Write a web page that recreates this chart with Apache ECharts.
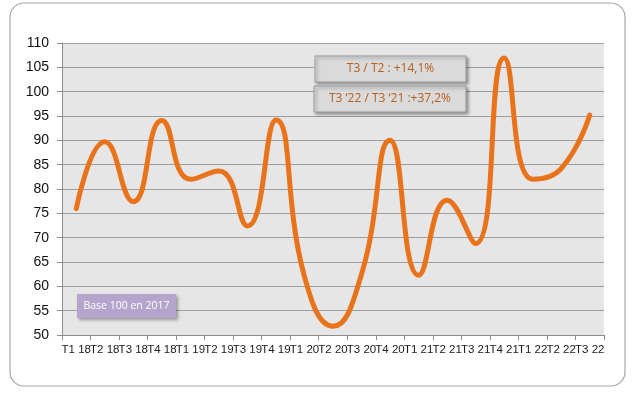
<!DOCTYPE html>
<html><head><meta charset="utf-8">
<script src="https://cdn.jsdelivr.net/npm/echarts@6/dist/echarts.min.js"></script>
<style>html,body{margin:0;padding:0;background:#fff}#c{width:633px;height:394px}</style>
</head><body><div id="c"></div>
<script>
const categories = ['T1 18','T2 18','T3 18','T4 18','T1 19','T2 19','T3 19','T4 19','T1 20','T2 20','T3 20','T4 20','T1 21','T2 21','T3 21','T4 21','T1 22','T2 22','T3 22'];
const values = [76.0, 89.7, 77.4, 94.1, 82.0, 83.7, 72.4, 94.2, 62.0, 51.8, 62.5, 90.0, 62.3, 77.7, 68.8, 106.9, 82.0, 84.2, 95.2];
const yTicks = {min: 50, max: 110, step: 5};
const notes = ['T3 / T2 : +14,1%', 'T3 \u201822 / T3 \u201821 :+37,2%'];
const baseNote = 'Base 100 en 2017';

const chart = echarts.init(document.getElementById('c'), null, {renderer: 'canvas'});
const boxStyle = {fill: '#DADADA', stroke: '#9A9A9A', lineWidth: 1, shadowBlur: 3, shadowOffsetX: 2, shadowOffsetY: 2, shadowColor: 'rgba(0,0,0,0.35)'};
chart.setOption({
  animation: false,
  backgroundColor: '#fff',
  grid: {left: 62, right: 29, top: 43, bottom: 59, show: true, backgroundColor: '#E6E6E6', borderWidth: 0},
  xAxis: {
    type: 'category', data: categories, boundaryGap: true,
    axisLine: {lineStyle: {color: '#8C8C8C', width: 1}},
    axisTick: {show: true, length: 5, lineStyle: {color: '#8C8C8C'}},
    axisLabel: {color: '#1a1a1a', fontSize: 11.5, fontFamily: 'Liberation Sans', margin: 9, interval: 0}
  },
  yAxis: {
    type: 'value', min: yTicks.min, max: yTicks.max, interval: yTicks.step,
    axisLine: {show: true, lineStyle: {color: '#8C8C8C', width: 1}},
    axisTick: {show: true, length: 5, lineStyle: {color: '#8C8C8C'}},
    axisLabel: {color: '#111', fontSize: 14, fontFamily: 'Liberation Sans', margin: 13},
    splitLine: {lineStyle: {color: '#9E9E9E', width: 1.2}}
  },
  series: [{
    type: 'line', data: values, smooth: 0.5, symbol: 'none',
    lineStyle: {color: '#E8731A', width: 5, cap: 'round'}
  }],
  graphic: [
    {type: 'rect', x: 10, y: 3, shape: {width: 615, height: 383, r: 14}, style: {fill: 'none', stroke: '#A6A6A6', lineWidth: 1.2}, z: -1},
    {type: 'rect', x: 315, y: 56, shape: {width: 151, height: 26}, style: boxStyle, z: 10},
    {type: 'text', x: 390.5, y: 69, style: {text: notes[0], fill: '#B5601E', font: '12px "Open Sans"', textAlign: 'center', textVerticalAlign: 'middle'}, z: 11},
    {type: 'rect', x: 314, y: 86, shape: {width: 152, height: 26}, style: boxStyle, z: 10},
    {type: 'text', x: 390, y: 99, style: {text: notes[1], fill: '#B5601E', font: '12px "Open Sans"', textAlign: 'center', textVerticalAlign: 'middle'}, z: 11},
    {type: 'rect', x: 77, y: 294, shape: {width: 99, height: 24}, style: {fill: '#B3A5CC', shadowBlur: 3, shadowOffsetX: 2, shadowOffsetY: 2, shadowColor: 'rgba(0,0,0,0.35)'}, z: 10},
    {type: 'text', x: 126.5, y: 306, style: {text: baseNote, fill: '#fff', font: '10.5px "Open Sans"', textAlign: 'center', textVerticalAlign: 'middle'}, z: 11}
  ]
});
</script></body></html>
